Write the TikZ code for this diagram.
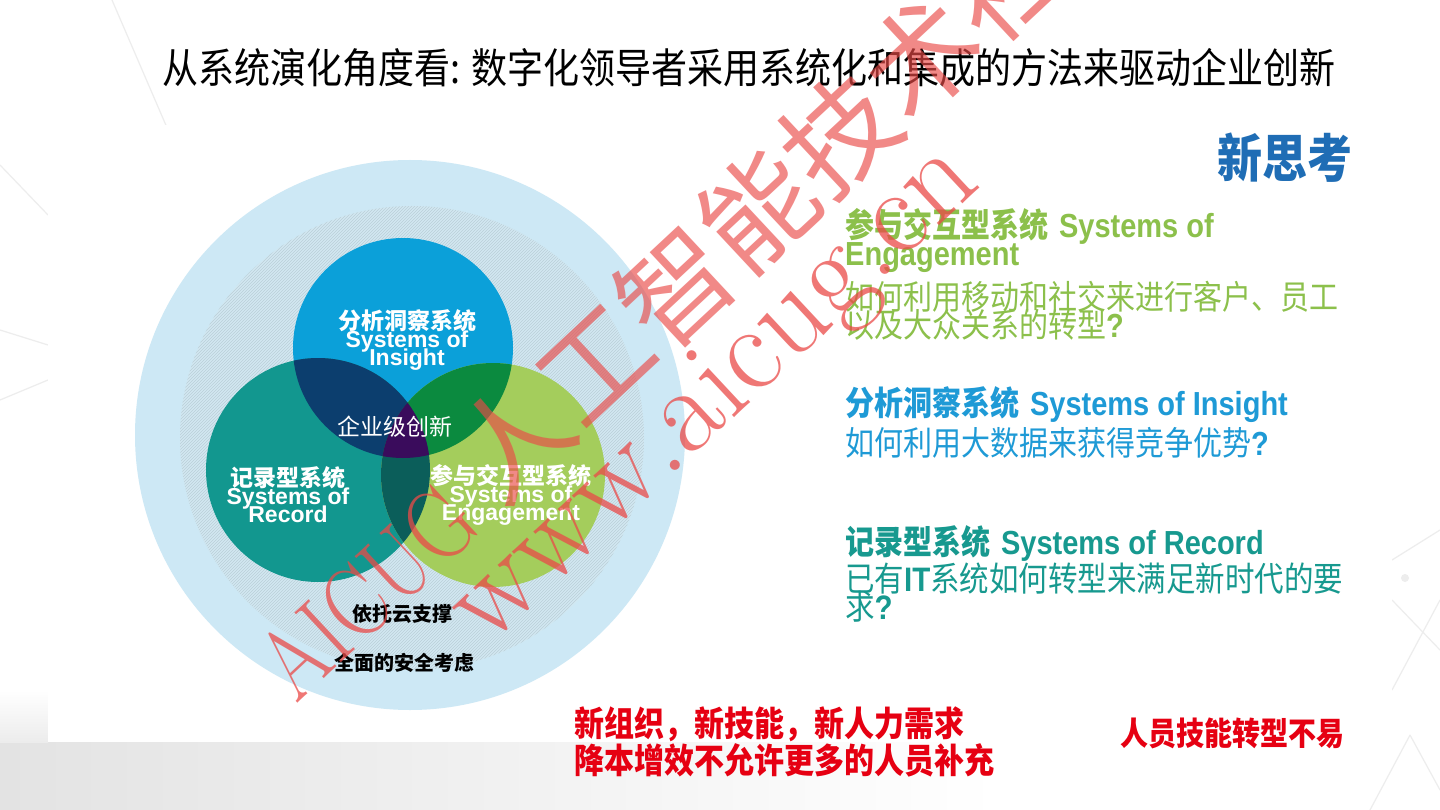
\documentclass[tikz,border=0pt]{standalone}
\usepackage{fontspec}
\newfontfamily\cjk{Noto Sans CJK SC}
\newfontfamily\arial{Liberation Sans}
\usetikzlibrary{patterns}
\definecolor{outerblue}{HTML}{CDE8F5}
\definecolor{hatchbase}{HTML}{D2E8F2}
\definecolor{hatchline}{HTML}{BACFD8}
\definecolor{insightc}{HTML}{0BA0D9}
\definecolor{recordc}{HTML}{12978F}
\definecolor{engagec}{HTML}{A4CD5C}
\definecolor{irc}{HTML}{0C3E6E}
\definecolor{iec}{HTML}{0B8A3F}
\definecolor{rec}{HTML}{0B5E5A}
\definecolor{irec}{HTML}{3A0C5C}
\definecolor{greentxt}{HTML}{8CC04B}
\definecolor{bluetxt}{HTML}{1E9AD6}
\definecolor{tealtxt}{HTML}{17998F}
\definecolor{navytxt}{HTML}{1F6DB5}
\definecolor{redtxt}{HTML}{E60012}
\definecolor{wmred}{HTML}{EA4A48}
\definecolor{bgline}{HTML}{EDEDED}
\newcommand{\vst}[1]{\scalebox{1}[1.15]{#1}}
\begin{document}
\lineskiplimit=-100pt
\begin{tikzpicture}[x=1pt,y=-1pt,
  bgl/.style={draw=bgline,line width=1.2pt},
  circlelbl/.style={text=white,align=center,inner sep=0pt,
    font=\bfseries\fontsize{23}{18}\selectfont},
  headtxt/.style={anchor=west,inner sep=0pt,font=\bfseries\fontsize{29}{29}\selectfont},
  bodytxt/.style={anchor=west,inner sep=0pt,font=\fontsize{29}{29}\selectfont},
  redlbl/.style={anchor=west,inner sep=0pt,text=redtxt,font=\cjk\bfseries\fontsize{30}{30}\selectfont},
  blacklbl/.style={text=black,inner sep=0pt,font=\cjk\bfseries\fontsize{20}{20}\selectfont},
  wm/.style={text=wmred,opacity=0.75,inner sep=0pt,rotate=43,anchor=base west}]
\useasboundingbox (0,0) rectangle (1440,810);
\fill[white] (0,0) rectangle (1440,810);
% faint background network lines
\draw[bgl] (112,0) -- (168,130);
\draw[bgl] (0,165) -- (48,215);
\draw[bgl] (0,330) -- (48,345);
\draw[bgl] (0,400) -- (48,380);
\draw[bgl] (1392,560) -- (1440,530);
\draw[bgl] (1392,600) -- (1440,650);
\draw[bgl] (1392,690) -- (1440,600);
\draw[bgl] (1370,810) -- (1410,735);
\draw[bgl] (1410,735) -- (1440,790);
\fill[bgline] (1405,578) circle[radius=4];
% skyline strip
\shade[left color=gray!22,right color=white] (0,742) rectangle (1000,810);
\shade[top color=white,bottom color=gray!15] (0,690) rectangle (48,742);
% panel
\fill[white] (48,125) rectangle (1392,742);
% circles
\fill[outerblue] (410,435) circle[radius=275];
\fill[hatchbase] (412,438) circle[radius=232];
\fill[pattern=north east lines,pattern color=hatchline] (412,438) circle[radius=232];
\fill[insightc] (403,348) circle[radius=110];
\fill[recordc] (318,470) circle[radius=112];
\fill[engagec] (493,475) circle[radius=112];
\begin{scope}
  \clip (403,348) circle[radius=110];
  \fill[irc] (318,470) circle[radius=112];
  \fill[iec] (493,475) circle[radius=112];
\end{scope}
\begin{scope}
  \clip (318,470) circle[radius=112];
  \fill[rec] (493,475) circle[radius=112];
  \clip (403,348) circle[radius=110];
  \fill[irec] (493,475) circle[radius=112];
\end{scope}
% circle labels
\node[circlelbl] (insl) at (407,340) {{\cjk 分析洞察系统}\\{\arial Systems of}\\{\arial Insight}};
\node[circlelbl] (recl) at (288,495) {{\cjk 记录型系统}\\{\arial Systems of}\\{\arial Record}};
\node[circlelbl] (engl) at (511,495) {{\cjk 参与交互型系统}\\{\arial Systems of}\\{\arial Engagement}};
\node[text=white,inner sep=0pt,font=\cjk\fontsize{23}{23}\selectfont] (core) at (395,427) {企业级创新};
\node[blacklbl] (cloud) at (402,614) {依托云支撑};
\node[blacklbl] (sec) at (404,663) {全面的安全考虑};
% title
\node[inner sep=0pt,font=\cjk\fontsize{36}{36}\selectfont] (title) at (749,68)
  {\vst{从系统演化角度看: 数字化领导者采用系统化和集成的方法来驱动企业创新}};
% right column
\node[anchor=west,inner sep=0pt,text=navytxt,font=\cjk\bfseries\fontsize{45}{45}\selectfont] (think) at (1217,158) {\vst{新思考}};
\node[headtxt,text=greentxt] (engh) at (845,226) {\vst{{\cjk 参与交互型系统} {\arial Systems of}}};
\node[headtxt,text=greentxt] (engh2) at (845,258) {\vst{\arial Engagement}};
\node[bodytxt,text=greentxt] (engb) at (845,297) {\vst{\cjk 如何利用移动和社交来进行客户、员工}};
\node[bodytxt,text=greentxt] (engb2) at (845,325) {\vst{{\cjk 以及大众关系的转型}{\arial\bfseries ?}}};
\node[headtxt,text=bluetxt] (insh) at (845,405) {\vst{{\cjk 分析洞察系统} {\arial Systems of Insight}}};
\node[bodytxt,text=bluetxt] (insb) at (845,443) {\vst{{\cjk 如何利用大数据来获得竞争优势}{\arial\bfseries ?}}};
\node[headtxt,text=tealtxt] (rech) at (845,543) {\vst{{\cjk 记录型系统} {\arial Systems of Record}}};
\node[bodytxt,text=tealtxt,font=\fontsize{29.5}{30}\selectfont] (recb) at (845,579) {\vst{{\cjk 已有}{\arial\bfseries IT}{\cjk 系统如何转型来满足新时代的要}}};
\node[bodytxt,text=tealtxt,font=\fontsize{29.5}{30}\selectfont] (recb2) at (845,607) {\vst{{\cjk 求}{\arial\bfseries ?}}};
% red notes
\node[redlbl] (red1) at (574,724) {\vst{新组织，新技能，新人力需求}};
\node[redlbl] (red2) at (574,760) {\vst{降本增效不允许更多的人员补充}};
\node[redlbl,font=\cjk\bfseries\fontsize{28}{28}\selectfont] (red3) at (1120,733) {\vst{人员技能转型不易}};
% watermark
\node[wm,font=\fontsize{100}{100}\selectfont] (wm1) at (296,705) {\scalebox{0.83}[1]{AICUG}};
\node[wm,opacity=0.65,font=\cjk\fontsize{112}{112}\selectfont] (wm2) at (500,509) {人工智能技术社区};
\node[wm,font=\fontsize{123}{123}\selectfont] (wm3) at (487,648) {www.aicug.cn};
\end{tikzpicture}
\end{document}
